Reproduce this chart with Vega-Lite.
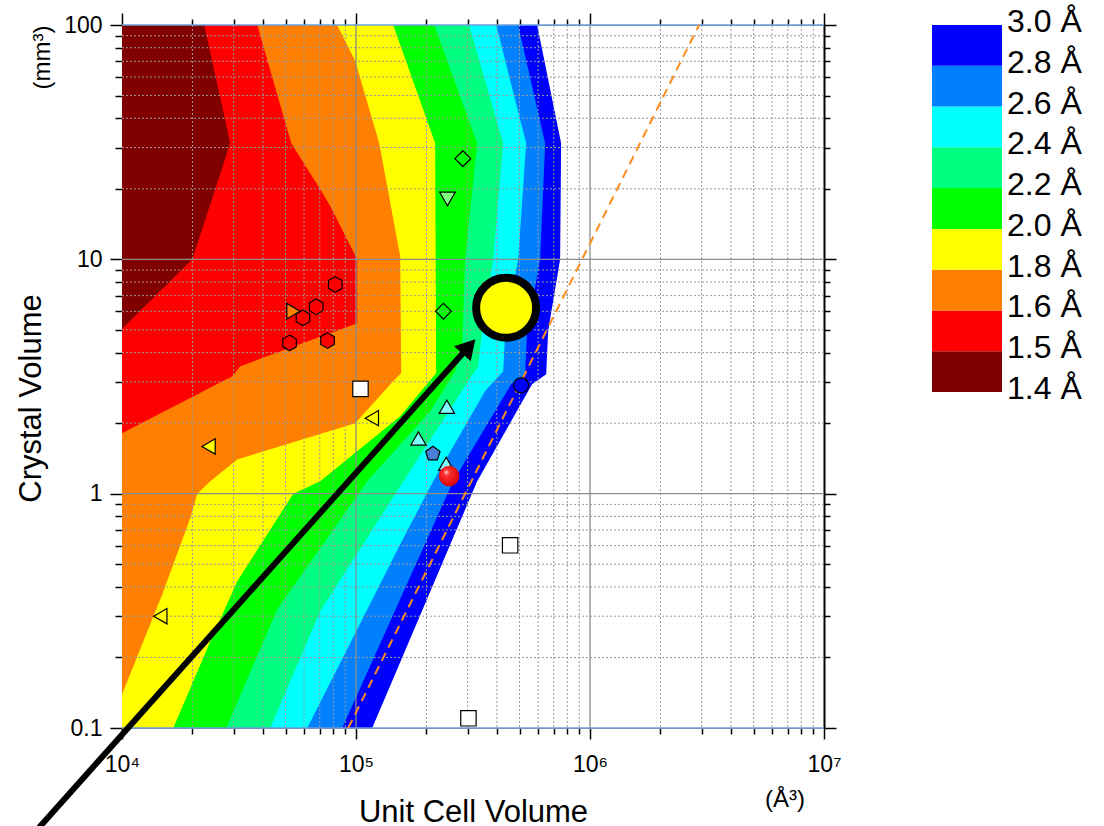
{
  "$schema": "https://vega.github.io/schema/vega-lite/v6.json",
  "padding": {"left": 15, "top": 6, "right": 0, "bottom": 0},
  "spacing": 91,
  "config": {"font": "Liberation Sans", "view": {"stroke": null}},
  "resolve": {"scale": {"fill": "independent"}},
  "datasets": {
    "contours": [
      {"band": 8, "x": 594500, "y": 100}, {"band": 8, "x": 752700, "y": 31.3}, {"band": 8, "x": 745300, "y": 10}, {"band": 8, "x": 662500, "y": 4.94}, {"band": 8, "x": 649600, "y": 3.23}, {"band": 8, "x": 565700, "y": 2.93}, {"band": 8, "x": 329500, "y": 1.13}, {"band": 8, "x": 117300, "y": 0.1},
      {"band": 7, "x": 493100, "y": 100}, {"band": 7, "x": 643200, "y": 31.3}, {"band": 7, "x": 612200, "y": 10}, {"band": 7, "x": 538600, "y": 4.94}, {"band": 7, "x": 528200, "y": 3.23}, {"band": 7, "x": 460300, "y": 2.93}, {"band": 7, "x": 260200, "y": 1.13}, {"band": 7, "x": 87340, "y": 0.1},
      {"band": 6, "x": 397200, "y": 100}, {"band": 6, "x": 533400, "y": 31.3}, {"band": 6, "x": 493100, "y": 10}, {"band": 6, "x": 434100, "y": 4.94}, {"band": 6, "x": 425600, "y": 3.33}, {"band": 6, "x": 356400, "y": 2.74}, {"band": 6, "x": 213700, "y": 1.13}, {"band": 6, "x": 154500, "y": 0.608}, {"band": 6, "x": 61880, "y": 0.1},
      {"band": 5, "x": 304500, "y": 100}, {"band": 5, "x": 425600, "y": 31.3}, {"band": 5, "x": 385600, "y": 10}, {"band": 5, "x": 346000, "y": 4.94}, {"band": 5, "x": 332700, "y": 3.5}, {"band": 5, "x": 265300, "y": 2.48}, {"band": 5, "x": 154500, "y": 1.076}, {"band": 5, "x": 70310, "y": 0.315}, {"band": 5, "x": 43000, "y": 0.1},
      {"band": 4, "x": 215800, "y": 100}, {"band": 4, "x": 329500, "y": 31.3}, {"band": 4, "x": 292700, "y": 10}, {"band": 4, "x": 284200, "y": 4.26}, {"band": 4, "x": 265300, "y": 3.33}, {"band": 4, "x": 207500, "y": 2.25}, {"band": 4, "x": 111600, "y": 1.13}, {"band": 4, "x": 46070, "y": 0.321}, {"band": 4, "x": 27900, "y": 0.1},
      {"band": 3, "x": 144200, "y": 100}, {"band": 3, "x": 217900, "y": 31.3}, {"band": 3, "x": 220100, "y": 3.27}, {"band": 3, "x": 154500, "y": 2.14}, {"band": 3, "x": 70310, "y": 1.13}, {"band": 3, "x": 53930, "y": 1}, {"band": 3, "x": 31090, "y": 0.423}, {"band": 3, "x": 23840, "y": 0.234}, {"band": 3, "x": 16560, "y": 0.1},
      {"band": 2, "x": 83100, "y": 100}, {"band": 2, "x": 99220, "y": 70.2}, {"band": 2, "x": 125700, "y": 31.3}, {"band": 2, "x": 154500, "y": 10.3}, {"band": 2, "x": 156000, "y": 3.27}, {"band": 2, "x": 144200, "y": 3.02}, {"band": 2, "x": 99220, "y": 2}, {"band": 2, "x": 31090, "y": 1.4}, {"band": 2, "x": 23840, "y": 1.13}, {"band": 2, "x": 20970, "y": 1}, {"band": 2, "x": 19570, "y": 0.785}, {"band": 2, "x": 14870, "y": 0.372}, {"band": 2, "x": 10000, "y": 0.139},
      {"band": 1, "x": 37850, "y": 100}, {"band": 1, "x": 52880, "y": 31.3}, {"band": 1, "x": 70310, "y": 19.9}, {"band": 1, "x": 77580, "y": 16.9}, {"band": 1, "x": 101200, "y": 10}, {"band": 1, "x": 101200, "y": 5.34}, {"band": 1, "x": 32020, "y": 3.5}, {"band": 1, "x": 29590, "y": 3.17}, {"band": 1, "x": 10000, "y": 1.81},
      {"band": 0, "x": 22470, "y": 100}, {"band": 0, "x": 29010, "y": 31.3}, {"band": 0, "x": 19970, "y": 10}, {"band": 0, "x": 10000, "y": 5.04}
    ],
    "markers": [
      {"marker": "diamond", "x": 286200, "y": 26.9},
      {"marker": "diamond", "x": 236400, "y": 6.01},
      {"marker": "tri_down", "x": 246000, "y": 18.1},
      {"marker": "tri_right", "x": 54080, "y": 6.01},
      {"marker": "hexagon", "x": 81500, "y": 7.81},
      {"marker": "hexagon", "x": 67600, "y": 6.27},
      {"marker": "hexagon", "x": 59340, "y": 5.63},
      {"marker": "hexagon", "x": 52000, "y": 4.4},
      {"marker": "hexagon", "x": 75560, "y": 4.5},
      {"marker": "square", "x": 104500, "y": 2.8},
      {"marker": "square", "x": 455700, "y": 0.602},
      {"marker": "square", "x": 302400, "y": 0.11},
      {"marker": "tri_left", "x": 116900, "y": 2.1},
      {"marker": "tri_left", "x": 23440, "y": 1.59},
      {"marker": "tri_left", "x": 14580, "y": 0.3},
      {"marker": "tri_up", "x": 244500, "y": 2.35},
      {"marker": "tri_up", "x": 184900, "y": 1.72},
      {"marker": "tri_up", "x": 242800, "y": 1.34},
      {"marker": "pentagon", "x": 213100, "y": 1.48},
      {"marker": "circle", "x": 507800, "y": 2.9}
    ],
    "legend_bands": [
      {"band": 0, "lo": 0, "hi": 1}, {"band": 1, "lo": 1, "hi": 2}, {"band": 2, "lo": 2, "hi": 3}, {"band": 3, "lo": 3, "hi": 4}, {"band": 4, "lo": 4, "hi": 5},
      {"band": 5, "lo": 5, "hi": 6}, {"band": 6, "lo": 6, "hi": 7}, {"band": 7, "lo": 7, "hi": 8}, {"band": 8, "lo": 8, "hi": 9}
    ],
    "legend_labels": [
      {"pos": 0, "label": "1.4 Å"}, {"pos": 1, "label": "1.5 Å"}, {"pos": 2, "label": "1.6 Å"}, {"pos": 3, "label": "1.8 Å"}, {"pos": 4, "label": "2.0 Å"},
      {"pos": 5, "label": "2.2 Å"}, {"pos": 6, "label": "2.4 Å"}, {"pos": 7, "label": "2.6 Å"}, {"pos": 8, "label": "2.8 Å"}, {"pos": 9, "label": "3.0 Å"}
    ]
  },
  "hconcat": [
    {
      "width": 702,
      "height": 703,
      "resolve": {"axis": {"x": "independent", "y": "independent"}},
      "layer": [
        {
          "data": {"name": "contours"},
          "mark": {"type": "area", "orient": "horizontal", "opacity": 1},
          "encoding": {
            "y": {"field": "y", "type": "quantitative", "scale": {"type": "log", "domain": [0.1, 100], "nice": false},
              "axis": {"orient": "left", "values": [0.1,0.2,0.3,0.4,0.5,0.6,0.7,0.8,0.9,1,2,3,4,5,6,7,8,9,10,20,30,40,50,60,70,80,90,100],
                "labelExpr": "datum.value == 0.1 ? '0.1' : datum.value == 1 ? '1' : datum.value == 10 ? '10' : datum.value == 100 ? '100' : ''",
                "tickSize": {"condition": {"test": "abs(log(datum.value)/LN10 - round(log(datum.value)/LN10)) < 0.001", "value": 12}, "value": 7},
                "tickColor": "#000", "tickWidth": 1.5, "domainColor": "#888", "domainWidth": 1, "grid": false,
                "labelFontSize": 23, "labelColor": "#000", "labelPadding": 8, "labelOverlap": false, "labelFlush": false,
                "title": "Crystal Volume", "titleFontSize": 31, "titleFontWeight": "normal", "titleColor": "#000",
                "titleX": -82, "titleY": 373, "titleBaseline": "alphabetic", "titleAngle": 270}},
            "x": {"field": "x", "type": "quantitative", "stack": null, "scale": {"type": "log", "domain": [10000, 10000000], "nice": false},
              "axis": {"orient": "bottom", "values": [10000,20000,30000,40000,50000,60000,70000,80000,90000,100000,200000,300000,400000,500000,600000,700000,800000,900000,1000000,2000000,3000000,4000000,5000000,6000000,7000000,8000000,9000000,10000000],
                "labelExpr": "datum.value == 10000 ? '10⁴' : datum.value == 100000 ? '10⁵' : datum.value == 1000000 ? '10⁶' : datum.value == 10000000 ? '10⁷' : ''",
                "tickSize": {"condition": {"test": "abs(log(datum.value)/LN10 - round(log(datum.value)/LN10)) < 0.001", "value": 11}, "value": 6},
                "tickColor": "#000", "tickWidth": 1.5, "domainColor": "#888", "grid": false,
                "labelFontSize": 23, "labelColor": "#000", "labelPadding": 14, "labelOverlap": false, "labelFlush": false,
                "title": "Unit Cell Volume", "titleFontSize": 31, "titleFontWeight": "normal", "titleColor": "#000",
                "titleY": 93, "titleBaseline": "alphabetic"}},
            "x2": {"datum": 10000},
            "detail": {"field": "band", "type": "nominal"},
            "color": {"field": "band", "type": "ordinal", "legend": null,
              "scale": {"domain": [0, 1, 2, 3, 4, 5, 6, 7, 8],
                "range": ["#800000", "#ff0000", "#ff8000", "#ffff00", "#00ff00", "#00ff80", "#00ffff", "#0080ff", "#0000ff"]}}
          }
        },
        {
          "data": {"values": [{"v": 20000},{"v": 30000},{"v": 40000},{"v": 50000},{"v": 60000},{"v": 70000},{"v": 80000},{"v": 90000},{"v": 200000},{"v": 300000},{"v": 400000},{"v": 500000},{"v": 600000},{"v": 700000},{"v": 800000},{"v": 900000},{"v": 2000000},{"v": 3000000},{"v": 4000000},{"v": 5000000},{"v": 6000000},{"v": 7000000},{"v": 8000000},{"v": 9000000}]},
          "mark": {"type": "rule", "color": "#999999", "strokeWidth": 1, "strokeDash": [2, 2]},
          "encoding": {"x": {"field": "v", "type": "quantitative", "scale": {"type": "log", "domain": [10000, 10000000], "nice": false}, "axis": null}}
        },
        {
          "data": {"values": [{"v": 0.2},{"v": 0.3},{"v": 0.4},{"v": 0.5},{"v": 0.6},{"v": 0.7},{"v": 0.8},{"v": 0.9},{"v": 2},{"v": 3},{"v": 4},{"v": 5},{"v": 6},{"v": 7},{"v": 8},{"v": 9},{"v": 20},{"v": 30},{"v": 40},{"v": 50},{"v": 60},{"v": 70},{"v": 80},{"v": 90}]},
          "mark": {"type": "rule", "color": "#999999", "strokeWidth": 1, "strokeDash": [2, 2]},
          "encoding": {"y": {"field": "v", "type": "quantitative", "scale": {"type": "log", "domain": [0.1, 100], "nice": false}, "axis": null}}
        },
        {
          "data": {"values": [{"v": 100000}, {"v": 1000000}]},
          "mark": {"type": "rule", "color": "#8c8c8c", "strokeWidth": 1.3},
          "encoding": {"x": {"field": "v", "type": "quantitative", "scale": {"type": "log", "domain": [10000, 10000000], "nice": false}, "axis": null}}
        },
        {
          "data": {"values": [{"v": 1}, {"v": 10}]},
          "mark": {"type": "rule", "color": "#8c8c8c", "strokeWidth": 1.3},
          "encoding": {"y": {"field": "v", "type": "quantitative", "scale": {"type": "log", "domain": [0.1, 100], "nice": false}, "axis": null}}
        },
        {
          "data": {"values": [{"v": 100}, {"v": 0.1}]},
          "mark": {"type": "rule", "color": "#6a9fdc", "strokeWidth": 1.6},
          "encoding": {"y": {"field": "v", "type": "quantitative", "scale": {"type": "log", "domain": [0.1, 100], "nice": false}, "axis": null}}
        },
        {
          "data": {"values": [{"x": 92620, "y": 0.1}, {"x": 2924000, "y": 100}]},
          "mark": {"type": "line", "color": "#ff8c1a", "strokeWidth": 2, "strokeDash": [9, 6]},
          "encoding": {
            "x": {"field": "x", "type": "quantitative", "scale": {"type": "log", "domain": [10000, 10000000], "nice": false},
              "axis": {"orient": "top", "values": [10000,20000,30000,40000,50000,60000,70000,80000,90000,100000,200000,300000,400000,500000,600000,700000,800000,900000,1000000,2000000,3000000,4000000,5000000,6000000,7000000,8000000,9000000,10000000],
                "labels": false, "title": null, "grid": false, "domainColor": "#888", "tickColor": "#000", "tickWidth": 1.5,
                "tickSize": {"condition": {"test": "abs(log(datum.value)/LN10 - round(log(datum.value)/LN10)) < 0.001", "value": 12}, "value": 6}}},
            "y": {"field": "y", "type": "quantitative", "scale": {"type": "log", "domain": [0.1, 100], "nice": false},
              "axis": {"orient": "right", "values": [0.1,0.2,0.3,0.4,0.5,0.6,0.7,0.8,0.9,1,2,3,4,5,6,7,8,9,10,20,30,40,50,60,70,80,90,100],
                "labels": false, "title": null, "grid": false, "domainColor": "#000", "domainWidth": 2, "tickColor": "#000", "tickWidth": 1.5,
                "tickSize": {"condition": {"test": "abs(log(datum.value)/LN10 - round(log(datum.value)/LN10)) < 0.001", "value": 12}, "value": 6}}}
          }
        },
        {
          "data": {"name": "markers"},
          "mark": {"type": "point", "filled": true, "opacity": 1, "stroke": "#000", "strokeWidth": 1.2},
          "encoding": {
            "x": {"field": "x", "type": "quantitative", "scale": {"type": "log", "domain": [10000, 10000000], "nice": false}, "axis": null},
            "y": {"field": "y", "type": "quantitative", "scale": {"type": "log", "domain": [0.1, 100], "nice": false}, "axis": null},
            "shape": {"field": "marker", "type": "nominal", "legend": null,
              "scale": {"domain": ["diamond", "tri_down", "hexagon", "tri_right", "square", "tri_left", "tri_up", "pentagon", "circle"],
                "range": ["diamond", "triangle-down", "M0,-1L0.866,-0.5L0.866,0.5L0,1L-0.866,0.5L-0.866,-0.5Z", "triangle-right", "square", "triangle-left", "triangle-up", "M0,-1L0.951,-0.309L0.588,0.809L-0.588,0.809L-0.951,-0.309Z", "circle"]}},
            "fill": {"field": "marker", "type": "nominal", "legend": null,
              "scale": {"domain": ["diamond", "tri_down", "hexagon", "tri_right", "square", "tri_left", "tri_up", "pentagon", "circle"],
                "range": ["transparent", "#80ff80", "#ff0000", "#ff8000", "#ffffff", "#ffff00", "#80ffff", "#4a7fd6", "#0000ff"]}},
            "size": {"field": "marker", "type": "nominal", "legend": null,
              "scale": {"domain": ["diamond", "tri_down", "hexagon", "tri_right", "square", "tri_left", "tri_up", "pentagon", "circle"],
                "range": [250, 225, 200, 225, 140, 225, 300, 270, 160]}}
          }
        },
        {
          "data": {"values": [{"x": 250100, "y": 1.19}]},
          "mark": {"type": "point", "shape": "circle", "size": 420, "filled": true, "opacity": 1, "strokeWidth": 0,
            "fill": {"gradient": "radial", "x1": 0.35, "y1": 0.3, "r1": 0, "x2": 0.45, "y2": 0.45, "r2": 0.6,
              "stops": [{"offset": 0, "color": "#ffe0e0"}, {"offset": 0.25, "color": "#ff3030"}, {"offset": 1, "color": "#d80000"}]}},
          "encoding": {
            "x": {"field": "x", "type": "quantitative", "scale": {"type": "log", "domain": [10000, 10000000], "nice": false}, "axis": null},
            "y": {"field": "y", "type": "quantitative", "scale": {"type": "log", "domain": [0.1, 100], "nice": false}, "axis": null}
          }
        },
        {
          "data": {"values": [{"x": 4424, "y": 0.03764, "x2": 303700, "y2": 4.243}]},
          "mark": {"type": "rule", "color": "#000", "strokeWidth": 6},
          "encoding": {
            "x": {"field": "x", "type": "quantitative", "scale": {"type": "log", "domain": [10000, 10000000], "nice": false}, "axis": null},
            "y": {"field": "y", "type": "quantitative", "scale": {"type": "log", "domain": [0.1, 100], "nice": false}, "axis": null},
            "x2": {"field": "x2"},
            "y2": {"field": "y2"}
          }
        },
        {
          "data": {"values": [{"x": 303700, "y": 4.243}]},
          "mark": {"type": "point", "shape": "triangle-up", "angle": 41.8, "size": 500, "filled": true, "fill": "#000", "opacity": 1, "strokeWidth": 0},
          "encoding": {
            "x": {"field": "x", "type": "quantitative", "scale": {"type": "log", "domain": [10000, 10000000], "nice": false}, "axis": null},
            "y": {"field": "y", "type": "quantitative", "scale": {"type": "log", "domain": [0.1, 100], "nice": false}, "axis": null}
          }
        },
        {
          "data": {"values": [{"x": 438000, "y": 6.21}]},
          "mark": {"type": "point", "shape": "circle", "size": 3600, "filled": true, "fill": "#ffff00", "stroke": "#000", "strokeWidth": 8, "opacity": 1},
          "encoding": {
            "x": {"field": "x", "type": "quantitative", "scale": {"type": "log", "domain": [10000, 10000000], "nice": false}, "axis": null},
            "y": {"field": "y", "type": "quantitative", "scale": {"type": "log", "domain": [0.1, 100], "nice": false}, "axis": null}
          }
        },
        {
          "data": {"values": [{"label": "(Å³)", "x": 6813000, "y": 0.0491}]},
          "mark": {"type": "text", "fontSize": 24, "align": "center", "baseline": "middle", "color": "#000"},
          "encoding": {
            "x": {"field": "x", "type": "quantitative", "scale": {"type": "log", "domain": [10000, 10000000], "nice": false}, "axis": null},
            "y": {"field": "y", "type": "quantitative", "scale": {"type": "log", "domain": [0.1, 100], "nice": false}, "axis": null},
            "text": {"field": "label"}
          }
        },
        {
          "data": {"values": [{"label": "(mm³)", "x": 4588, "y": 72.6}]},
          "mark": {"type": "text", "fontSize": 24, "align": "center", "baseline": "middle", "angle": 270, "color": "#000"},
          "encoding": {
            "x": {"field": "x", "type": "quantitative", "scale": {"type": "log", "domain": [10000, 10000000], "nice": false}, "axis": null},
            "y": {"field": "y", "type": "quantitative", "scale": {"type": "log", "domain": [0.1, 100], "nice": false}, "axis": null},
            "text": {"field": "label"}
          }
        }
      ]
    },
    {
      "width": 70,
      "height": 367,
      "layer": [
        {
          "data": {"name": "legend_bands"},
          "mark": {"type": "rect", "opacity": 1},
          "encoding": {
            "y": {"field": "lo", "type": "quantitative", "scale": {"domain": [0, 9], "nice": false, "zero": false}, "axis": null},
            "y2": {"field": "hi"},
            "x": {"datum": 0, "type": "quantitative", "scale": {"domain": [0, 1], "nice": false}, "axis": null},
            "x2": {"datum": 1},
            "color": {"field": "band", "type": "ordinal", "legend": null,
              "scale": {"domain": [0, 1, 2, 3, 4, 5, 6, 7, 8],
                "range": ["#800000", "#ff0000", "#ff8000", "#ffff00", "#00ff00", "#00ff80", "#00ffff", "#0080ff", "#0000ff"]}}
          }
        },
        {
          "data": {"name": "legend_labels"},
          "mark": {"type": "text", "align": "left", "baseline": "middle", "dx": 5, "dy": -3, "fontSize": 32, "color": "#000"},
          "encoding": {
            "y": {"field": "pos", "type": "quantitative", "scale": {"domain": [0, 9], "nice": false, "zero": false}, "axis": null},
            "x": {"datum": 1, "type": "quantitative", "scale": {"domain": [0, 1], "nice": false}, "axis": null},
            "text": {"field": "label"}
          }
        }
      ]
    }
  ]
}
